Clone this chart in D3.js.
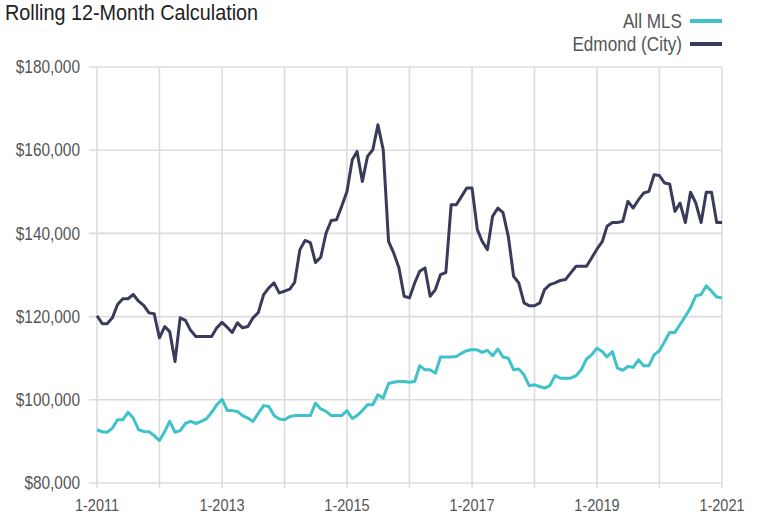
<!DOCTYPE html>
<html>
<head>
<meta charset="utf-8">
<script src="https://cdn.jsdelivr.net/npm/d3@7"></script>
<style>
  body { margin: 0; background: #fff; }
  svg text { font-family: "Liberation Sans", Arial, sans-serif; }
</style>
</head>
<body>
<div id="chart"></div>
<script>
// monthly values, 1-2011 .. 1-2021 (thousands of dollars)
const allMls = [
  92.8, 92.3, 92.2, 93.2, 95.2, 95.2, 97.0, 95.6, 92.8, 92.4, 92.3, 91.4,
  90.2, 92.4, 94.8, 92.2, 92.6, 94.3, 94.8, 94.3, 94.8, 95.4, 97.0, 98.8,
  100.1, 97.4, 97.4, 97.2, 96.2, 95.6, 94.8, 96.8, 98.6, 98.4, 96.2, 95.4,
  95.2, 96.0, 96.2, 96.2, 96.2, 96.2, 99.2, 97.8, 97.2, 96.2, 96.2, 96.2,
  97.4, 95.5, 96.2, 97.4, 98.8, 98.8, 101.2, 100.4, 103.9, 104.2, 104.4, 104.4,
  104.2, 104.4, 108.2, 107.2, 107.2, 106.4, 110.3, 110.3, 110.3, 110.4, 111.2, 111.8,
  112.1, 112.0, 111.4, 111.9, 110.6, 112.2, 110.3, 110.0, 107.2, 107.4, 106.0, 103.4,
  103.6, 103.2, 102.8, 103.4, 105.8, 105.2, 105.2, 105.2, 105.8, 107.2, 109.8, 110.8,
  112.4, 111.6, 110.3, 111.6, 107.6, 107.1, 108.0, 107.8, 109.6, 108.2, 108.2, 110.8,
  111.8, 114.0, 116.2, 116.2, 118.1, 120.1, 122.1, 125.0, 125.3, 127.4, 126.1, 124.7,
  124.5
];
const edmond = [
  120.2, 118.3, 118.3, 119.7, 122.9, 124.3, 124.3, 125.3, 123.7, 122.7, 120.9, 120.7,
  114.9, 117.6, 116.4, 109.2, 119.7, 119.1, 116.7, 115.2, 115.2, 115.2, 115.2, 117.3,
  118.6, 117.4, 116.2, 118.5, 117.3, 117.6, 119.7, 121.0, 125.3, 126.9, 128.1, 125.7,
  126.1, 126.6, 128.2, 136.1, 138.3, 137.8, 133.0, 134.3, 140.1, 143.1, 143.3, 146.5,
  150.1, 157.7, 159.7, 152.5, 158.5, 160.1, 166.1, 160.1, 138.1, 135.3, 131.7, 124.9,
  124.5, 128.1, 130.9, 131.7, 124.9, 126.5, 130.1, 130.6, 146.9, 146.9, 148.9, 150.9,
  150.9, 140.9, 138.1, 136.1, 144.1, 146.1, 145.0, 139.3, 129.7, 128.1, 123.3, 122.6,
  122.6, 123.3, 126.5, 127.7, 128.1, 128.7, 128.9, 130.5, 132.1, 132.1, 132.1, 134.1,
  136.2, 138.0, 141.7, 142.6, 142.6, 142.9, 147.7, 146.1, 148.1, 149.7, 150.1, 154.1,
  153.9, 152.1, 151.9, 145.3, 147.3, 142.6, 149.9, 147.3, 142.6, 149.9, 149.9, 142.6,
  142.6
];
const seriesNames = ["All MLS", "Edmond (City)"];
const seriesColors = ["#3fc2c9", "#393b5b"];
const yTicks = [80000, 100000, 120000, 140000, 160000, 180000];
const xLabelYears = [2011, 2013, 2015, 2017, 2019, 2021];

const width = 757, height = 517;
const margin = { top: 67, right: 35, bottom: 34, left: 97 };
const narrow = 0.88; // squeeze text to look like a condensed face

const start = new Date(2011, 0, 1);
const dates = allMls.map((d, i) => d3.timeMonth.offset(start, i));

const svg = d3.select("#chart")
  .append("svg")
  .attr("width", width)
  .attr("height", height);

const x = d3.scaleTime()
  .domain([start, new Date(2021, 0, 1)])
  .range([margin.left, width - margin.right]);

const y = d3.scaleLinear()
  .domain([80000, 180000])
  .range([height - margin.bottom, margin.top]);

// grid
const yearTicks = d3.range(2011, 2022).map(yr => new Date(yr, 0, 1));
svg.append("g")
  .selectAll("line")
  .data(yearTicks)
  .join("line")
  .attr("x1", d => x(d)).attr("x2", d => x(d))
  .attr("y1", y(180000)).attr("y2", y(80000) + 5)
  .attr("stroke", "#dcdcdc")
  .attr("stroke-width", 1.6);

svg.append("g")
  .selectAll("line")
  .data(yTicks)
  .join("line")
  .attr("x1", margin.left - 8).attr("x2", width - margin.right)
  .attr("y1", d => y(d)).attr("y2", d => y(d))
  .attr("stroke", "#dcdcdc")
  .attr("stroke-width", 1.6);

// y labels
svg.append("g")
  .selectAll("text")
  .data(yTicks)
  .join("text")
  .attr("transform", d => `translate(${margin.left - 17},${y(d)}) scale(${narrow},1)`)
  .attr("dy", "0.35em")
  .attr("text-anchor", "end")
  .attr("fill", "#555")
  .attr("font-size", 17.5)
  .text(d => "$" + d3.format(",")(d));

// x labels
svg.append("g")
  .selectAll("text")
  .data(xLabelYears)
  .join("text")
  .attr("transform", d => `translate(${x(new Date(d, 0, 1))},${height - 6}) scale(${narrow},1)`)
  .attr("text-anchor", "middle")
  .attr("fill", "#555")
  .attr("font-size", 16.5)
  .text(d => "1-" + d);

// lines
const line = d3.line()
  .x((d, i) => x(dates[i]))
  .y(d => y(d * 1000));

[allMls, edmond].forEach((s, k) => {
  svg.append("path")
    .datum(s)
    .attr("fill", "none")
    .attr("stroke", seriesColors[k])
    .attr("stroke-width", 3)
    .attr("stroke-linejoin", "round")
    .attr("d", line);
});

// title
svg.append("text")
  .attr("transform", `translate(5,20) scale(${narrow},1)`)
  .attr("fill", "#222")
  .attr("font-size", 22.5)
  .text("Rolling 12-Month Calculation");

// legend
const legend = svg.append("g")
  .selectAll("g")
  .data(seriesNames)
  .join("g")
  .attr("transform", (d, i) => `translate(0,${21 + i * 23})`);

legend.append("text")
  .attr("transform", `translate(682,0) scale(${narrow},1)`)
  .attr("dy", "0.35em")
  .attr("text-anchor", "end")
  .attr("fill", "#555")
  .attr("font-size", 19.5)
  .text(d => d);

legend.append("line")
  .attr("x1", 690).attr("x2", 722)
  .attr("stroke", (d, i) => seriesColors[i])
  .attr("stroke-width", 4);
</script>
</body>
</html>
